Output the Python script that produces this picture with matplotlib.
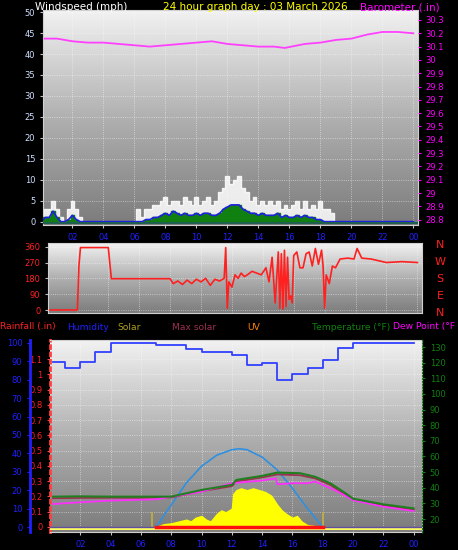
import numpy as np
import matplotlib.pyplot as plt
import matplotlib.colors as mcolors

hours = ['02', '04', '06', '08', '10', '12', '14', '16', '18', '20', '22', '00']

# wind speed (mph), 0.25 h steps
wind_t = [i * 0.25 for i in range(97)]
gust = [0, 3, 3, 5, 3, 1, 0, 3, 5, 3, 1, 0,
        0, 0, 0, 0, 0, 0, 0, 0, 0, 0, 0, 0,
        0, 3, 1, 3, 3, 4, 4, 5, 6, 4, 5, 5,
        4, 6, 5, 4, 6, 4, 5, 6, 4, 5, 7, 8,
        11, 9, 10, 11, 8, 7, 5, 6, 4, 5, 4, 5,
        4, 5, 3, 4, 3, 4, 5, 3, 5, 3, 4, 3,
        5, 3, 3, 2, 0, 0, 0, 0, 0, 0, 0, 0,
        0, 0, 0, 0, 0, 0, 0, 0, 0, 0, 0, 0, 0]
avg = [0, 1, 1, 2.5, 1, 0, 0, 0.5, 1.5, 0.5, 0, 0,
       0, 0, 0, 0, 0, 0, 0, 0, 0, 0, 0, 0,
       0, 0, 0, 0.5, 0.5, 1, 1, 1.5, 2, 1.5, 2.5, 2,
       1.5, 2, 1.5, 1.5, 2, 1.5, 2, 2, 1.5, 1.5, 2, 3,
       3.5, 4, 4, 4, 3, 2.5, 2, 2, 1.5, 2, 1.5, 1.5,
       1.5, 2, 1, 1.5, 1, 1, 1.5, 1, 1.5, 1, 1, 0.5,
       0.5, 0, 0, 0, 0, 0, 0, 0, 0, 0, 0, 0,
       0, 0, 0, 0, 0, 0, 0, 0, 0, 0, 0, 0, 0]

baro_t = [0.2, 1, 2, 3, 4, 5, 6, 7, 8, 9, 10, 11, 12, 13, 14, 15, 15.7, 17, 18, 19, 20, 21, 22, 23, 24]
baro = [30.16, 30.16, 30.14, 30.13, 30.13, 30.12, 30.11, 30.10, 30.11, 30.12, 30.13, 30.14, 30.12,
        30.11, 30.10, 30.10, 30.09, 30.12, 30.13, 30.15, 30.16, 30.19, 30.21, 30.21, 30.20]

dir_t = [0.1, 2.0, 2.1, 2.2, 4.0, 4.2, 8.0, 8.2, 8.5, 8.8, 9.1, 9.4, 9.7, 10.0, 10.3, 10.6, 10.9, 11.2,
         11.5, 11.6, 11.7, 11.8, 12.0, 12.2, 12.4, 12.6, 12.8, 13.0, 13.3, 13.6, 13.9, 14.2, 14.4,
         14.6, 14.8, 15.0, 15.1, 15.2, 15.3, 15.4, 15.5, 15.6, 15.7, 15.8, 15.9, 16.0, 16.2, 16.4,
         16.6, 16.8, 17.0, 17.2, 17.4, 17.6, 17.8, 17.9, 18.0, 18.1, 18.3, 18.5, 18.7, 19.0, 19.5,
         19.9, 20.1, 20.4, 21.0, 22.0, 23.0, 24.0]
direction = [0, 0, 250, 355, 355, 178, 178, 150, 165, 145, 170, 150, 175, 160, 180, 140, 175, 165,
             180, 355, 10, 160, 130, 200, 180, 210, 190, 200, 220, 210, 200, 240, 160,
             300, 40, 330, 10, 320, 5, 340, 20, 300, 60, 80, 40, 310, 330, 240,
             240, 320, 330, 250, 350, 260, 340, 250, 10, 200, 150, 250, 240, 290, 295,
             290, 350, 295, 290, 270, 275, 270]

# bottom panel
hum_t = [0.2, 1, 2, 3, 4, 7, 9, 10, 12, 13, 14, 15, 16, 17, 18, 19, 20, 24]
humidity = [89.7, 86.6, 89.7, 95, 100, 98.7, 96.6, 95, 93.7, 87.9, 89, 79.8, 83.2, 86.6, 90.8, 97.5, 100, 100]

temp_t = [0.2, 2, 4, 6, 8, 10, 12, 12.3, 14, 15, 16.5, 17.5, 18.5, 19.5, 20, 22, 24]
temp = [34.3, 34.5, 34.3, 34.3, 34.3, 38.6, 41.8, 45, 47.6, 49.7, 49.3, 47, 42.9, 36.5, 33, 29.4, 26.8]
apparent = [33.3, 33.5, 33.6, 33.6, 33.8, 37.8, 41, 44, 46.6, 48.5, 48, 46, 41.8, 35.6, 32.2, 28.6, 26]
dew_t = [0.2, 2, 4, 7, 10, 12, 14, 14.9, 15, 16, 17, 17.5, 19, 20, 22, 24]
dewpoint = [29.6, 30.7, 31.8, 32.6, 37.5, 42.9, 44.6, 46, 42.2, 42.9, 42.9, 44, 37.5, 32, 27.9, 25.1]

maxsol_t = [7, 8, 9, 10, 11, 12, 12.5, 13, 14, 15, 16, 17, 18]
maxsolar = [0, 12, 24, 33, 39, 42, 42.5, 42, 38, 31, 21, 10, 0]
sol_t = [7, 7.5, 8, 8.5, 9, 9.3, 9.6, 10, 10.3, 10.6, 11, 11.3, 11.6, 12, 12.1, 12.3, 12.6, 13,
         13.4, 13.8, 14.2, 14.6, 15, 15.3, 15.6, 16, 16.3, 16.6, 17, 17.5, 18]
solar = [0, 1.5, 2, 3, 4, 3, 5, 6, 4, 3, 7, 9, 8, 10, 18, 20, 21, 20, 21, 20, 19, 17, 12, 9,
         7, 5, 6, 3, 1, 0.5, 0]

bg = mcolors.LinearSegmentedColormap.from_list('bg', ['#7c7c7c', '#b0b0b0', '#f2f2f2'])


def shade(ax):
    grad = np.linspace(0, 1, 256).reshape(-1, 1)
    ax.imshow(grad, aspect='auto', cmap=bg, origin='lower', extent=[0, 1, 0, 1],
              transform=ax.transAxes, zorder=0)
    ax.set_facecolor('#a0a0a0')
    ax.grid(True, color='white', linestyle=':', linewidth=0.6, alpha=0.6)
    for s in ax.spines.values():
        s.set_color('#d0d0d0')


fig = plt.figure(figsize=(4.58, 5.5), dpi=100, facecolor='black')
W, H = 458, 550


def box(l, t, r, b):
    return [l / W, 1 - b / H, (r - l) / W, (b - t) / H]


tick_kw = dict(labelsize=6, length=2, direction='out')

# wind panel
ax1 = fig.add_axes(box(43, 10, 418, 225))
shade(ax1)
ax1.fill_between(wind_t, gust, step='mid', color='white', alpha=0.85, zorder=2)
ax1.fill_between(wind_t, avg, step='mid', color='#108010', zorder=3)
ax1.plot(wind_t, avg, color='#2020e0', lw=1.2, zorder=4)
ax1.axhline(-0.4, color='#206050', lw=1.5, zorder=4)
ax1.set_xlim(0.1, 24.3)
ax1.set_ylim(-0.8, 50.5)
ax1.set_yticks(range(0, 51, 5))
ax1.set_xticks(range(2, 25, 2))
ax1.set_xticklabels(hours)
ax1.tick_params(axis='y', colors='#c0c0c0', labelcolor='#d0e0ff', **tick_kw)
ax1.tick_params(axis='x', colors='#c0c0c0', labelcolor='#2020ff', **tick_kw)
ax1b = ax1.twinx()
ax1b.plot(baro_t, baro, color='#ff40ff', lw=1.3)
ax1b.set_ylim(28.76, 30.375)
ax1b.set_yticks(np.round(np.arange(28.8, 30.31, 0.1), 1))
ax1b.set_yticklabels(['28.8', '28.9', '29', '29.1', '29.2', '29.3', '29.4', '29.5', '29.6', '29.7',
                      '29.8', '29.9', '30', '30.1', '30.2', '30.3'])
ax1b.tick_params(axis='y', colors='#ff00ff', **tick_kw)
for s in ax1b.spines.values():
    s.set_visible(False)
fig.text(35 / W, 1 - 7 / H, 'Windspeed (mph)', color='white', fontsize=7.5, va='center')
fig.text(255 / W, 1 - 7 / H, '24 hour graph day : 03 March 2026', color='yellow', fontsize=7.5,
         ha='center', va='center')
fig.text(440 / W, 1 - 7 / H, 'Barometer (.in)', color='#ff00ff', fontsize=7.5, ha='right', va='center')

# wind direction panel
ax2 = fig.add_axes(box(48, 243, 422, 313))
shade(ax2)
ax2.plot(dir_t, direction, color='#ff2020', lw=1.2)
ax2.set_xlim(0.1, 24.3)
ax2.set_ylim(-17, 381)
ax2.set_yticks([0, 90, 180, 270, 360])
ax2.set_xticks(range(2, 25, 2))
ax2.set_xticklabels([])
ax2.tick_params(axis='y', colors='#c0c0c0', labelcolor='#ff2020', **tick_kw)
ax2.tick_params(axis='x', length=0)
for i, c in enumerate(['N', 'W', 'S', 'E', 'N']):
    fig.text(440 / W, 1 - (245 + i * 17) / H, c, color='#ff2020', fontsize=8, ha='center', va='center')

# bottom panel
legend = [('Rainfall (.in)', '#ff2020', 0), ('Humidity', '#2020ff', 67), ('Solar', '#b0a020', 117),
          ('Max solar', '#a03050', 172), ('UV', '#ff8000', 247), ('Temperature (°F)', '#108010', 312),
          ('Dew Point (°F', '#ff00ff', 393)]
for txt, c, x in legend:
    fig.text(x / W, 1 - 327 / H, txt, color=c, fontsize=6.6, va='center')

ax3 = fig.add_axes(box(50, 340, 422, 532))
shade(ax3)
ax3.set_xlim(0, 24.55)
ax3.set_ylim(-0.033, 1.225)
ax3.set_yticks(np.round(np.arange(0, 1.11, 0.1), 1))
ax3.set_yticklabels(['0', '0.1', '0.2', '0.3', '0.4', '0.5', '0.6', '0.7', '0.8', '0.9', '1', '1.1'])
ax3.tick_params(axis='y', colors='#ff4040', labelcolor='#ff2020', **tick_kw)
ax3.spines['left'].set_color('#ff4040')
ax3.spines['left'].set_linestyle(':')
ax3.spines['left'].set_linewidth(2)
ax3.set_xticks(range(2, 25, 2))
ax3.set_xticklabels(hours)
ax3.tick_params(axis='x', colors='#c0c0c0', labelcolor='#2020ff', **tick_kw)

axh = ax3.twinx()
axh.set_ylim(-2.7, 101.6)
axh.spines['left'].set_position(('outward', 14.4))
axh.spines['left'].set_color('#2020ff')
axh.spines['left'].set_linewidth(2)
axh.spines['right'].set_visible(False)
axh.spines['top'].set_visible(False)
axh.spines['bottom'].set_visible(False)
axh.yaxis.set_label_position('left')
axh.yaxis.set_ticks_position('left')
axh.set_yticks(range(0, 101, 10))
axh.tick_params(axis='y', colors='#2020ff', **tick_kw)
axh.fill_between(sol_t, solar, color='yellow', zorder=3)
axh.plot(maxsol_t, maxsolar, color='#3090e0', lw=1.2, zorder=4)
axh.step(hum_t, humidity, where='post', color='#3040ff', lw=1.3)
axh.vlines([6.75, 18], 0, 8, color='#c0b040', lw=1.2)
axh.axhline(-1, color='#ffff60', lw=1.5)
axh.axhline(0, color='#6050a0', lw=1)
axh.plot([7, 18], [0, 0], color='#ff1010', lw=2.5, zorder=5)

axt = ax3.twinx()
axt.set_ylim(11.7, 134.5)
for s in ['left', 'top', 'bottom']:
    axt.spines[s].set_visible(False)
axt.spines['right'].set_color('#108010')
axt.spines['right'].set_linestyle(':')
axt.set_yticks(range(20, 131, 10))
axt.tick_params(axis='y', colors='#108010', **tick_kw)
axt.plot(temp_t, apparent, color='#a03050', lw=1.3)
axt.plot(dew_t, dewpoint, color='#ff30ff', lw=1.3)
axt.plot(temp_t, temp, color='#208020', lw=1.5)

fig.savefig('out.png', dpi=100, facecolor='black')
